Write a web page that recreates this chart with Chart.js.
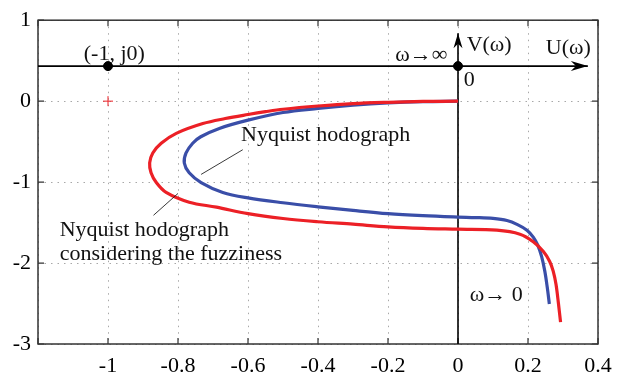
<!DOCTYPE html>
<html>
<head>
<meta charset="utf-8">
<script src="https://cdn.jsdelivr.net/npm/chart.js@4.4.0/dist/chart.umd.min.js"></script>
<style>
  html, body { margin: 0; padding: 0; background: #fff; }
  .chart-wrapper { width: 621px; height: 374px; }
</style>
</head>
<body>
<div class="chart-wrapper"><canvas id="chart" width="621" height="374"></canvas></div>
<script>
// Nyquist hodograph (blue), from w -> inf at the origin to w -> 0
const blueU = [0, -0.1, -0.2, -0.3, -0.4, -0.5, -0.6, -0.682, -0.735, -0.758, -0.777,
  -0.782, -0.768, -0.734, -0.672, -0.6, -0.5, -0.4, -0.3, -0.2, -0.1, 0, 0.05, 0.1,
  0.14, 0.17, 0.197, 0.215, 0.228, 0.239, 0.248, 0.255, 0.261];
const blueV = [0, -0.006, -0.022, -0.05, -0.09, -0.14, -0.235, -0.337, -0.44, -0.52, -0.64,
  -0.763, -0.885, -1.006, -1.128, -1.195, -1.255, -1.305, -1.35, -1.39, -1.415, -1.432, -1.438,
  -1.449, -1.475, -1.525, -1.594, -1.68, -1.78, -1.92, -2.1, -2.3, -2.506];

// hodograph considering the fuzziness (red)
const redU = [0, -0.1, -0.2, -0.3, -0.4, -0.5, -0.55, -0.6, -0.665, -0.729, -0.805, -0.848,
  -0.872, -0.881, -0.877, -0.862, -0.834, -0.768, -0.69, -0.6, -0.5, -0.4, -0.3, -0.2, -0.1, 0,
  0.111, 0.177, 0.215, 0.244, 0.262, 0.272, 0.28, 0.287, 0.293];
const redV = [0, -0.004, -0.014, -0.03, -0.06, -0.1, -0.13, -0.165, -0.215, -0.277, -0.398,
  -0.52, -0.64, -0.763, -0.885, -1.006, -1.128, -1.249, -1.31, -1.39, -1.45, -1.49, -1.52,
  -1.553, -1.572, -1.582, -1.594, -1.643, -1.736, -1.858, -1.98, -2.1, -2.263, -2.5, -2.73];

// drawn U(w) / V(w) axes and marked points
const uAxisU = [-1.2, 0.371];
const uAxisV = [0.433, 0.433];
const vAxisU = [0, 0];
const vAxisV = [-3, 0.84];
const dotU = [-1, 0];
const dotV = [0.433, 0.433];
const plusU = [-1];
const plusV = [0];

const xTicks = [-1.2, -1, -0.8, -0.6, -0.4, -0.2, 0, 0.2, 0.4];
const yTicks = [-3, -2, -1, 0, 1];

const labels = [
  { text: '(-1, j0)', u: -0.982, v: 0.58, align: 'center' },
  { text: 'ω→∞', u: -0.105, v: 0.563, align: 'center' },
  { text: 'V(ω)', u: 0.089, v: 0.697, align: 'center' },
  { text: 'U(ω)', u: 0.315, v: 0.657, align: 'center' },
  { text: '0', u: 0.032, v: 0.263, align: 'center' },
  { text: 'Nyquist hodograph', u: -0.62, v: -0.42, align: 'left' },
  { text: 'Nyquist hodograph', u: -1.138, v: -1.59, align: 'left' },
  { text: 'considering the fuzziness', u: -1.138, v: -1.895, align: 'left' },
  { text: 'ω→ 0', u: 0.109, v: -2.393, align: 'center' }
];
const leaders = [
  [[-0.615, -0.6], [-0.734, -0.905]],
  [[-0.80, -1.14], [-0.87, -1.41]]
];

const zip = (us, vs) => us.map((u, i) => ({ x: u, y: vs[i] }));
const FONT = '22px "Liberation Serif", "Times New Roman", serif';

function arrowHead(ctx, p1, p2, len, half) {
  const a = Math.atan2(p2.y - p1.y, p2.x - p1.x);
  ctx.save();
  ctx.translate(p2.x, p2.y);
  ctx.rotate(a);
  ctx.beginPath();
  ctx.moveTo(0, 0);
  ctx.lineTo(-len, -half);
  ctx.lineTo(-len * 0.7, 0);
  ctx.lineTo(-len, half);
  ctx.closePath();
  ctx.fillStyle = '#000';
  ctx.fill();
  ctx.restore();
}

const decor = {
  id: 'decor',
  beforeDatasetsDraw(chart) {
    const { ctx, chartArea: a, scales: { x, y } } = chart;
    ctx.save();
    // dotted grid
    ctx.strokeStyle = '#a8a8a8';
    ctx.lineWidth = 1;
    ctx.setLineDash([1.5, 5]);
    x.ticks.forEach(t => {
      const px = Math.round(x.getPixelForValue(t.value)) + 0.5;
      ctx.beginPath(); ctx.moveTo(px, a.top); ctx.lineTo(px, a.bottom); ctx.stroke();
    });
    y.ticks.forEach(t => {
      const py = Math.round(y.getPixelForValue(t.value)) + 0.5;
      ctx.beginPath(); ctx.moveTo(a.left, py); ctx.lineTo(a.right, py); ctx.stroke();
    });
    ctx.setLineDash([]);
    // inward tick marks and frame
    ctx.strokeStyle = '#333';
    ctx.lineWidth = 1.2;
    x.ticks.forEach(t => {
      const px = x.getPixelForValue(t.value);
      ctx.beginPath();
      ctx.moveTo(px, a.bottom); ctx.lineTo(px, a.bottom - 6);
      ctx.moveTo(px, a.top); ctx.lineTo(px, a.top + 6);
      ctx.stroke();
    });
    y.ticks.forEach(t => {
      const py = y.getPixelForValue(t.value);
      ctx.beginPath();
      ctx.moveTo(a.left, py); ctx.lineTo(a.left + 6, py);
      ctx.moveTo(a.right, py); ctx.lineTo(a.right - 6, py);
      ctx.stroke();
    });
    ctx.lineWidth = 1.5;
    ctx.strokeRect(a.left, a.top, a.right - a.left, a.bottom - a.top);
    ctx.restore();
  },
  afterDatasetsDraw(chart) {
    const { ctx, scales: { x, y } } = chart;
    const px = (u, v) => ({ x: x.getPixelForValue(u), y: y.getPixelForValue(v) });
    [0, 1].forEach(i => {
      const pts = chart.getDatasetMeta(i).data;
      const p1 = pts[pts.length - 2], p2 = pts[pts.length - 1];
      arrowHead(ctx, p1, p2, i === 0 ? 17 : 15, i === 0 ? 5 : 4.5);
    });
    ctx.save();
    ctx.strokeStyle = '#222';
    ctx.lineWidth = 0.9;
    leaders.forEach(([s, e]) => {
      const a = px(s[0], s[1]), b = px(e[0], e[1]);
      ctx.beginPath(); ctx.moveTo(a.x, a.y); ctx.lineTo(b.x, b.y); ctx.stroke();
    });
    ctx.font = FONT;
    ctx.fillStyle = '#111';
    ctx.textBaseline = 'middle';
    labels.forEach(l => {
      const p = px(l.u, l.v);
      ctx.textAlign = l.align;
      ctx.fillText(l.text, p.x, p.y);
    });
    ctx.restore();
  }
};

new Chart(document.getElementById('chart').getContext('2d'), {
  type: 'scatter',
  data: {
    datasets: [
      { data: zip(uAxisU, uAxisV), showLine: true, borderColor: '#000', borderWidth: 1.6,
        pointRadius: 0, order: 3 },
      { data: zip(vAxisU, vAxisV), showLine: true, borderColor: '#000', borderWidth: 1.6,
        pointRadius: 0, order: 3 },
      { label: 'Nyquist hodograph', data: zip(blueU, blueV), showLine: true, tension: 0.35,
        borderColor: '#3a4ea8', borderWidth: 3.2, pointRadius: 0, order: 2 },
      { label: 'Nyquist hodograph considering the fuzziness', data: zip(redU, redV),
        showLine: true, tension: 0.35, borderColor: '#ec2026', borderWidth: 3.2,
        pointRadius: 0, order: 1 },
      { data: zip(dotU, dotV), pointRadius: 4.5, backgroundColor: '#000', borderColor: '#000',
        order: 0 },
      { data: zip(plusU, plusV), pointStyle: 'cross', pointRadius: 5, borderColor: '#ec2026',
        borderWidth: 1, order: 0 }
    ]
  },
  options: {
    responsive: false,
    animation: false,
    layout: { padding: { top: 15, right: 23, left: 0, bottom: 0 } },
    plugins: { legend: { display: false }, tooltip: { enabled: false } },
    scales: {
      x: {
        type: 'linear', min: -1.2, max: 0.4,
        afterBuildTicks: s => { s.ticks = xTicks.map(v => ({ value: v })); },
        afterFit: s => { s.height = 30; },
        grid: { display: false, drawTicks: false },
        border: { display: false },
        ticks: {
          padding: 9, color: '#000', font: { family: '"Liberation Serif"', size: 22 },
          callback: v => Math.abs(v + 1.2) < 1e-6 ? '' : String(Math.round(v * 10) / 10)
        }
      },
      y: {
        type: 'linear', min: -3, max: 1,
        afterBuildTicks: s => { s.ticks = yTicks.map(v => ({ value: v })); },
        afterFit: s => { s.width = 38; },
        grid: { display: false, drawTicks: false },
        border: { display: false },
        ticks: {
          padding: 7, color: '#000', font: { family: '"Liberation Serif"', size: 22 },
          callback: v => String(v)
        }
      }
    }
  },
  plugins: [decor]
});
</script>
</body>
</html>
